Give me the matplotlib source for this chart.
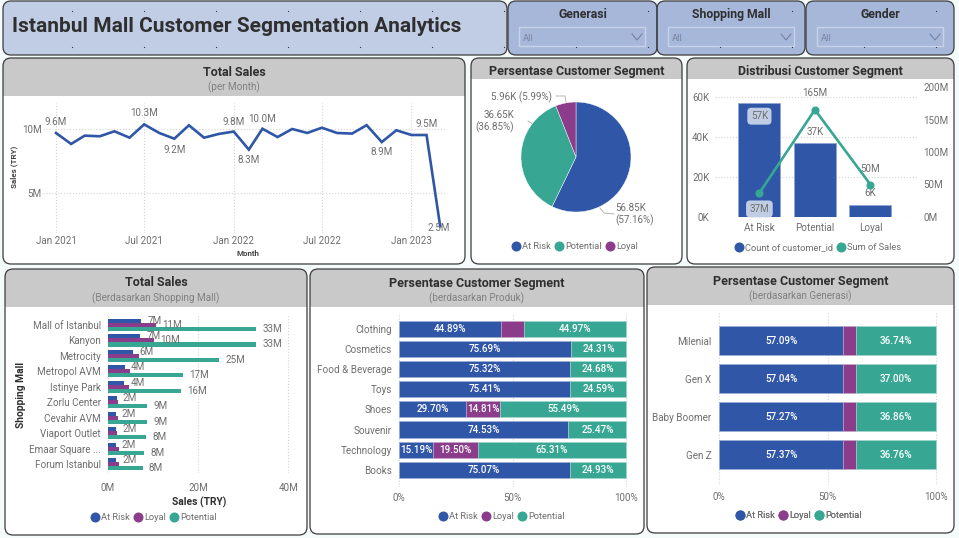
import matplotlib
matplotlib.use("Agg")
import matplotlib.pyplot as plt
import matplotlib.dates as mdates
import numpy as np
import pandas as pd
from matplotlib.lines import Line2D
from matplotlib.patches import FancyBboxPatch, Rectangle

W, H = 959, 538
BLUE = "#3056a8"
GREEN = "#37a794"
PURPLE = "#8b3d8b"
TXT = "#6e6e6e"
DARK = "#2f2f2f"
BAND = "#c9c9c9"
GRID = "#d4d4d4"
BODY = "Roboto"
HEAD = "Roboto"
FS = 7.1

# monthly sales, millions
months = pd.date_range("2021-01-01", periods=27, freq="MS")
sales = [9.69, 8.83, 9.48, 9.43, 9.82, 9.32, 10.36, 9.69, 9.24, 10.29, 9.32, 9.61, 9.80, 8.39,
         10.02, 9.37, 10.00, 9.69, 10.10, 9.69, 9.64, 10.30, 8.98, 9.90, 9.53, 9.53, 2.40]
sales_labels = {0: ("9.6M", 11), 6: ("10.3M", 11), 8: ("9.2M", -11), 12: ("9.8M", 10), 13: ("8.3M", -10),
                14: ("10.0M", 10), 22: ("8.9M", -10), 25: ("9.5M", 11), 26: ("2.5M", -2)}

# pie
seg_names = ["At Risk", "Potential", "Loyal"]
seg_counts = [56.85, 36.65, 5.96]

# combo
combo_cats = ["At Risk", "Potential", "Loyal"]
combo_count = [57, 37, 6]
combo_sales = [37, 165, 50]

# by mall
malls = ["Mall of Istanbul", "Kanyon", "Metrocity", "Metropol AVM", "Istinye Park", "Zorlu Center",
         "Cevahir AVM", "Viaport Outlet", "Emaar Square ...", "Forum Istanbul"]
mall_risk = [7.3, 7.2, 5.6, 3.7, 3.6, 1.9, 1.7, 1.8, 1.7, 1.8]
mall_loyal = [10.6, 10.1, 6.9, 4.9, 4.6, 2.3, 2.2, 2.1, 2.4, 2.5]
mall_pot = [32.8, 32.9, 24.6, 16.6, 16.2, 8.6, 8.6, 8.4, 8.0, 7.7]

# by product
products = ["Clothing", "Cosmetics", "Food & Beverage", "Toys", "Shoes", "Souvenir", "Technology", "Books"]
prod_risk = [44.89, 75.69, 75.32, 75.41, 29.70, 74.53, 15.19, 75.07]
prod_loyal = [10.14, 0, 0, 0, 14.81, 0, 19.50, 0]
prod_pot = [44.97, 24.31, 24.68, 24.59, 55.49, 25.47, 65.31, 24.93]

# by generation
gens = ["Milenial", "Gen X", "Baby Boomer", "Gen Z"]
gen_risk = [57.09, 57.04, 57.27, 57.37]
gen_loyal = [6.17, 5.96, 5.87, 5.87]
gen_pot = [36.74, 37.00, 36.86, 36.76]

plt.rcParams["font.family"] = [BODY, "DejaVu Sans"]
fig = plt.figure(figsize=(W / 100, H / 100), dpi=100, facecolor="#f5fbfb")
bg = fig.add_axes([0, 0, 1, 1], zorder=0)
bg.set_xlim(0, W)
bg.set_ylim(H, 0)
bg.axis("off")


def px_axes(x0, y0, x1, y1):
    ax = fig.add_axes([x0 / W, 1 - y1 / H, (x1 - x0) / W, (y1 - y0) / H], zorder=2)
    ax.patch.set_alpha(0)
    for s in ax.spines.values():
        s.set_visible(False)
    ax.tick_params(length=0, labelsize=FS, labelcolor=TXT)
    return ax


def panel(x0, y0, x1, y1, band_to=None, face="white", title=None, sub=None):
    box = FancyBboxPatch((x0 + 7, y0 + 7), x1 - x0 - 14, y1 - y0 - 14, boxstyle="round,pad=7,rounding_size=8",
                         fc=face, ec="none", zorder=1)
    bg.add_patch(box)
    if band_to:
        r = Rectangle((x0, y0), x1 - x0, band_to - y0, fc=BAND, ec="none", zorder=1.1)
        bg.add_patch(r)
        r.set_clip_path(box)
    bg.add_patch(FancyBboxPatch((x0 + 7, y0 + 7), x1 - x0 - 14, y1 - y0 - 14,
                                boxstyle="round,pad=7,rounding_size=8", fc="none", ec="#3c3c3c", lw=0.9, zorder=1.2))
    cx = (x0 + x1) / 2
    if title:
        bg.text(cx, y0 + 12.5, title, ha="center", va="center_baseline", fontsize=9, fontweight="bold",
                family=HEAD, color=DARK, zorder=3)
    if sub:
        bg.text(cx, y0 + 29, sub, ha="center", va="center", fontsize=7.1, color="#808080", zorder=3)


def legend(cx, cy, names, colors):
    handles = [Line2D([], [], ls="", marker="o", ms=6.2, color=c, label=n) for n, c in zip(names, colors)]
    lg = bg.legend(handles=handles, loc="center", bbox_to_anchor=(cx, cy), bbox_transform=bg.transData, ncol=len(names),
                   frameon=False, fontsize=6.7, handlelength=0.8, handletextpad=0.25, columnspacing=0.5,
                   borderpad=0, labelcolor=TXT)
    lg.set_zorder(3)
    bg.add_artist(lg)


# header + slicers
panel(3, 1, 507, 55, face="#c1cde4")
bg.text(12, 25, "Istanbul Mall Customer Segmentation Analytics", ha="left", va="center_baseline", fontsize=15.05,
        fontweight="bold", family=HEAD, color=DARK, zorder=3)
for (x0, x1, name) in [(508, 657, "Generasi"), (657, 805, "Shopping Mall"), (806, 954, "Gender")]:
    panel(x0, 1, x1, 55, face="#a7b7da")
    bg.text((x0 + x1) / 2, 13, name, ha="center", va="center_baseline", fontsize=8.8, fontweight="bold",
            family=HEAD, color=DARK, zorder=3)
    bg.add_patch(Rectangle((x0 + 11, 27), 126, 19, fc="none", ec="#c9d3e8", lw=1, zorder=3))
    bg.text(x0 + 15, 38.5, "All", ha="left", va="center", fontsize=6.8, color="#7b84a0", zorder=3)
    bg.plot([x0 + 124, x0 + 129, x0 + 134], [34, 40, 34], color="#6f7b99", lw=0.7, zorder=3)

# snap grid dots over the top row
gx, gy = np.meshgrid(np.arange(72, 950, 72), [11, 47])
bg.scatter(gx.ravel(), gy.ravel(), s=0.8, color="#333333", lw=0, zorder=3)

# line chart
panel(3, 58, 465, 264, band_to=96, title="Total Sales", sub="(per Month)")
ax = px_axes(43, 103, 447, 233)
x = mdates.date2num(months)
d0 = x[0]
ax.plot(x, sales, color=BLUE, lw=1.9, solid_joinstyle="miter", zorder=3)
ax.set_xlim(d0 - 26.7, d0 + 803)
ax.set_ylim(1.875, 12.03)
ax.set_yticks([5, 10], ["5M", "10M"])
ax.set_xticks(mdates.date2num(pd.to_datetime(["2021-01-01", "2021-07-01", "2022-01-01", "2022-07-01", "2023-01-01"])),
              ["Jan 2021", "Jul 2021", "Jan 2022", "Jul 2022", "Jan 2023"])
ax.tick_params(axis="y", pad=1)
ax.tick_params(axis="x", pad=2.5)
ax.grid(color=GRID, ls=":", lw=0.8)
ax.set_axisbelow(True)
for i, (s, off) in sales_labels.items():
    ax.annotate(s, (x[i], sales[i]), xytext=(-1 if i == 26 else 0, off * 0.72), textcoords="offset points",
                ha="center", va="center", fontsize=FS, color=TXT, zorder=4)
ax.set_xlabel("Month", fontsize=5.8, fontweight="bold", color="#444444")
ax.xaxis.set_label_coords(248, 249.5, transform=bg.transData)
ax.set_ylabel("Sales (TRY)", fontsize=5.8, fontweight="bold", color="#444444")
ax.yaxis.set_label_coords(18, 167, transform=bg.transData)

# pie
panel(471, 58, 682, 264, band_to=79, title="Persentase Customer Segment")
ax = px_axes(521, 102, 631, 212)
ax.pie(seg_counts, colors=[BLUE, GREEN, PURPLE], startangle=90, counterclock=False, radius=1,
       wedgeprops={"ec": "white", "lw": 0.3})
ax.set_xlim(-1, 1)
ax.set_ylim(-1, 1)
bg.text(615, 214.5, "56.85K\n(57.16%)", ha="left", va="center", fontsize=FS, color=TXT, zorder=3, linespacing=1.25)
bg.text(514, 121.5, "36.65K\n(36.85%)", ha="right", va="center", fontsize=FS, color=TXT, zorder=3, linespacing=1.25)
bg.text(552, 97, "5.96K (5.99%)", ha="right", va="center", fontsize=FS, color=TXT, zorder=3)
bg.plot([600, 604, 614], [208, 213, 214], color="#aaaaaa", lw=0.6, zorder=3)
bg.plot([528, 534], [121, 125], color="#aaaaaa", lw=0.6, zorder=3)
bg.plot([556, 565, 566], [96, 96, 102], color="#aaaaaa", lw=0.6, zorder=3)
legend(575, 246.5, seg_names, [BLUE, GREEN, PURPLE])

# combo
panel(687, 58, 954, 264, band_to=79, title="Distribusi Customer Segment")
ax = px_axes(715, 87, 917, 217)
pos = np.arange(3)
ax.bar(pos, combo_count, width=0.76, color=BLUE, ec="#8ea3d0", lw=0.5, zorder=2)
ax.set_xlim(-0.8, 2.84)
ax.set_ylim(0, 65)
ax.set_yticks([0, 20, 40, 60], ["0K", "20K", "40K", "60K"])
ax.set_xticks(pos, combo_cats)
ax.tick_params(axis="y", pad=4)
ax.tick_params(axis="x", pad=4.5)
ax.grid(axis="y", color=GRID, ls=":", lw=0.8)
ax.set_axisbelow(True)
ax2 = ax.twinx()
ax2.patch.set_alpha(0)
for s in ax2.spines.values():
    s.set_visible(False)
ax2.plot(pos, combo_sales, color=GREEN, lw=1.9, marker="o", ms=4.8, zorder=4)
ax2.set_ylim(0, 200)
ax2.set_yticks([0, 50, 100, 150, 200], ["0M", "50M", "100M", "150M", "200M"])
ax2.tick_params(length=0, labelsize=FS, labelcolor=TXT, pad=4.5)
pill = dict(boxstyle="round,pad=0.35,rounding_size=0.4", fc="#c1cde4", ec="none")
ax2.annotate("57K", (0, combo_count[0] * 200 / 65), xytext=(0, -9.5), textcoords="offset points", ha="center", va="center",
             fontsize=FS, color=TXT, bbox=pill)
ax2.annotate("37M", (0, combo_sales[0]), xytext=(0, -11.5), textcoords="offset points", ha="center", va="center",
             fontsize=FS, color=TXT, bbox=pill)
ax2.annotate("37K", (1, combo_count[1] * 200 / 65), xytext=(0, 8), textcoords="offset points", ha="center", va="center",
             fontsize=FS, color=TXT)
ax2.annotate("6K", (2, combo_count[2] * 200 / 65), xytext=(0, 8.5), textcoords="offset points", ha="center", va="center",
             fontsize=FS, color=TXT)
ax2.annotate("165M", (1, combo_sales[1]), xytext=(0, 12), textcoords="offset points", ha="center", va="center",
             fontsize=FS, color=TXT)
ax2.annotate("50M", (2, combo_sales[2]), xytext=(0, 11), textcoords="offset points", ha="center", va="center",
             fontsize=FS, color=TXT)
legend(818, 247.5, ["Count of customer_id", "Sum of Sales"], [BLUE, GREEN])

# by mall
panel(5, 269, 307, 535, band_to=307, title="Total Sales", sub="(Berdasarkan Shopping Mall)")
ax = px_axes(100, 315, 296, 473)
ypos = np.arange(len(malls))
bh = 0.26
ax.barh(ypos - bh, mall_risk, height=bh, color=BLUE, zorder=2)
ax.barh(ypos, mall_loyal, height=bh, color=PURPLE, zorder=2)
ax.barh(ypos + bh, mall_pot, height=bh, color=GREEN, zorder=2)
ax.set_xlim(-8 / 4.51, 188 / 4.51)
ax.set_ylim(9.58, -0.65)
ax.set_yticks(ypos, malls)
ax.set_xticks([0, 20, 40], ["0M", "20M", "40M"])
ax.tick_params(axis="y", pad=-0.5)
ax.tick_params(axis="x", pad=7.5)
ax.grid(axis="x", color=GRID, ls=":", lw=0.8)
ax.set_axisbelow(True)
for i in ypos:
    ax.annotate(f"{mall_risk[i]:.0f}M", (mall_risk[i], i - bh), xytext=(4.5, 0), textcoords="offset points", va="center",
                fontsize=FS, color=TXT, zorder=4)
    if i < 2:
        ax.annotate(f"{mall_loyal[i]:.0f}M", (mall_loyal[i], i), xytext=(4.5, 0), textcoords="offset points", va="center",
                    fontsize=FS, color=TXT, zorder=4)
    ax.annotate(f"{mall_pot[i]:.0f}M", (mall_pot[i], i + bh), xytext=(4.5, 0), textcoords="offset points", va="center",
                fontsize=FS, color=TXT, zorder=4)
ax.set_xlabel("Sales (TRY)", fontsize=7.4, fontweight="bold", family=HEAD, color=DARK)
ax.xaxis.set_label_coords(199, 496.5, transform=bg.transData)
ax.set_ylabel("Shopping Mall", fontsize=7.4, fontweight="bold", family=HEAD, color=DARK)
ax.yaxis.set_label_coords(25.5, 395, transform=bg.transData)
legend(154, 517.5, ["At Risk", "Loyal", "Potential"], [BLUE, PURPLE, GREEN])


def stacked(ax, cats, risk, loyal, pot, height, min_label, ypad, xpad):
    ypos = np.arange(len(cats))
    r = np.array(risk)
    l = np.array(loyal)
    p = np.array(pot)
    ax.barh(ypos, r, height=height, color=BLUE, ec="#9fb0d6", lw=0.4, zorder=2)
    ax.barh(ypos, l, left=r, height=height, color=PURPLE, ec="#c9a5c9", lw=0.4, zorder=2)
    ax.barh(ypos, p, left=r + l, height=height, color=GREEN, ec="#a5d8cf", lw=0.4, zorder=2)
    for i in ypos:
        starts = [0, r[i], r[i] + l[i]]
        for st, v in zip(starts, [r[i], l[i], p[i]]):
            if v > min_label:
                ax.text(st + v / 2, i, f"{v:.2f}%", ha="center", va="center", fontsize=FS, fontweight="medium",
                        color="white", zorder=4)
    ax.set_xticks([0, 50, 100], ["0%", "50%", "100%"])
    ax.set_yticks(ypos, cats)
    ax.tick_params(axis="y", pad=ypad)
    ax.tick_params(axis="x", pad=xpad)
    ax.grid(axis="x", color=GRID, ls=":", lw=0.8)
    ax.set_axisbelow(True)


# by product
panel(310, 269, 644, 534, band_to=307, title="Persentase Customer Segment", sub="(berdasarkan Produk)")
ax = px_axes(392, 313, 632, 487)
stacked(ax, products, prod_risk, prod_loyal, prod_pot, 0.8, 12, 0, 4)
ax.set_xlim(-6.7 / 2.276, 100 + 5.7 / 2.276)
ax.set_ylim(7.86, -0.8)
legend(502, 516.5, ["At Risk", "Loyal", "Potential"], [BLUE, PURPLE, GREEN])

# by generation
panel(647, 267, 954, 533, band_to=305, title="Persentase Customer Segment", sub="(berdasarkan Generasi)")
ax = px_axes(713, 312, 942, 485)
stacked(ax, gens, gen_risk, gen_loyal, gen_pot, 0.76, 12, 1, 5)
ax.set_xlim(-6.3 / 2.164, 100 + 6.3 / 2.164)
ax.set_ylim(3.8, -0.755)
legend(799, 515.5, ["At Risk", "Loyal", "Potential"], [BLUE, PURPLE, GREEN])

fig.savefig("out.png", dpi=100, facecolor=fig.get_facecolor())
